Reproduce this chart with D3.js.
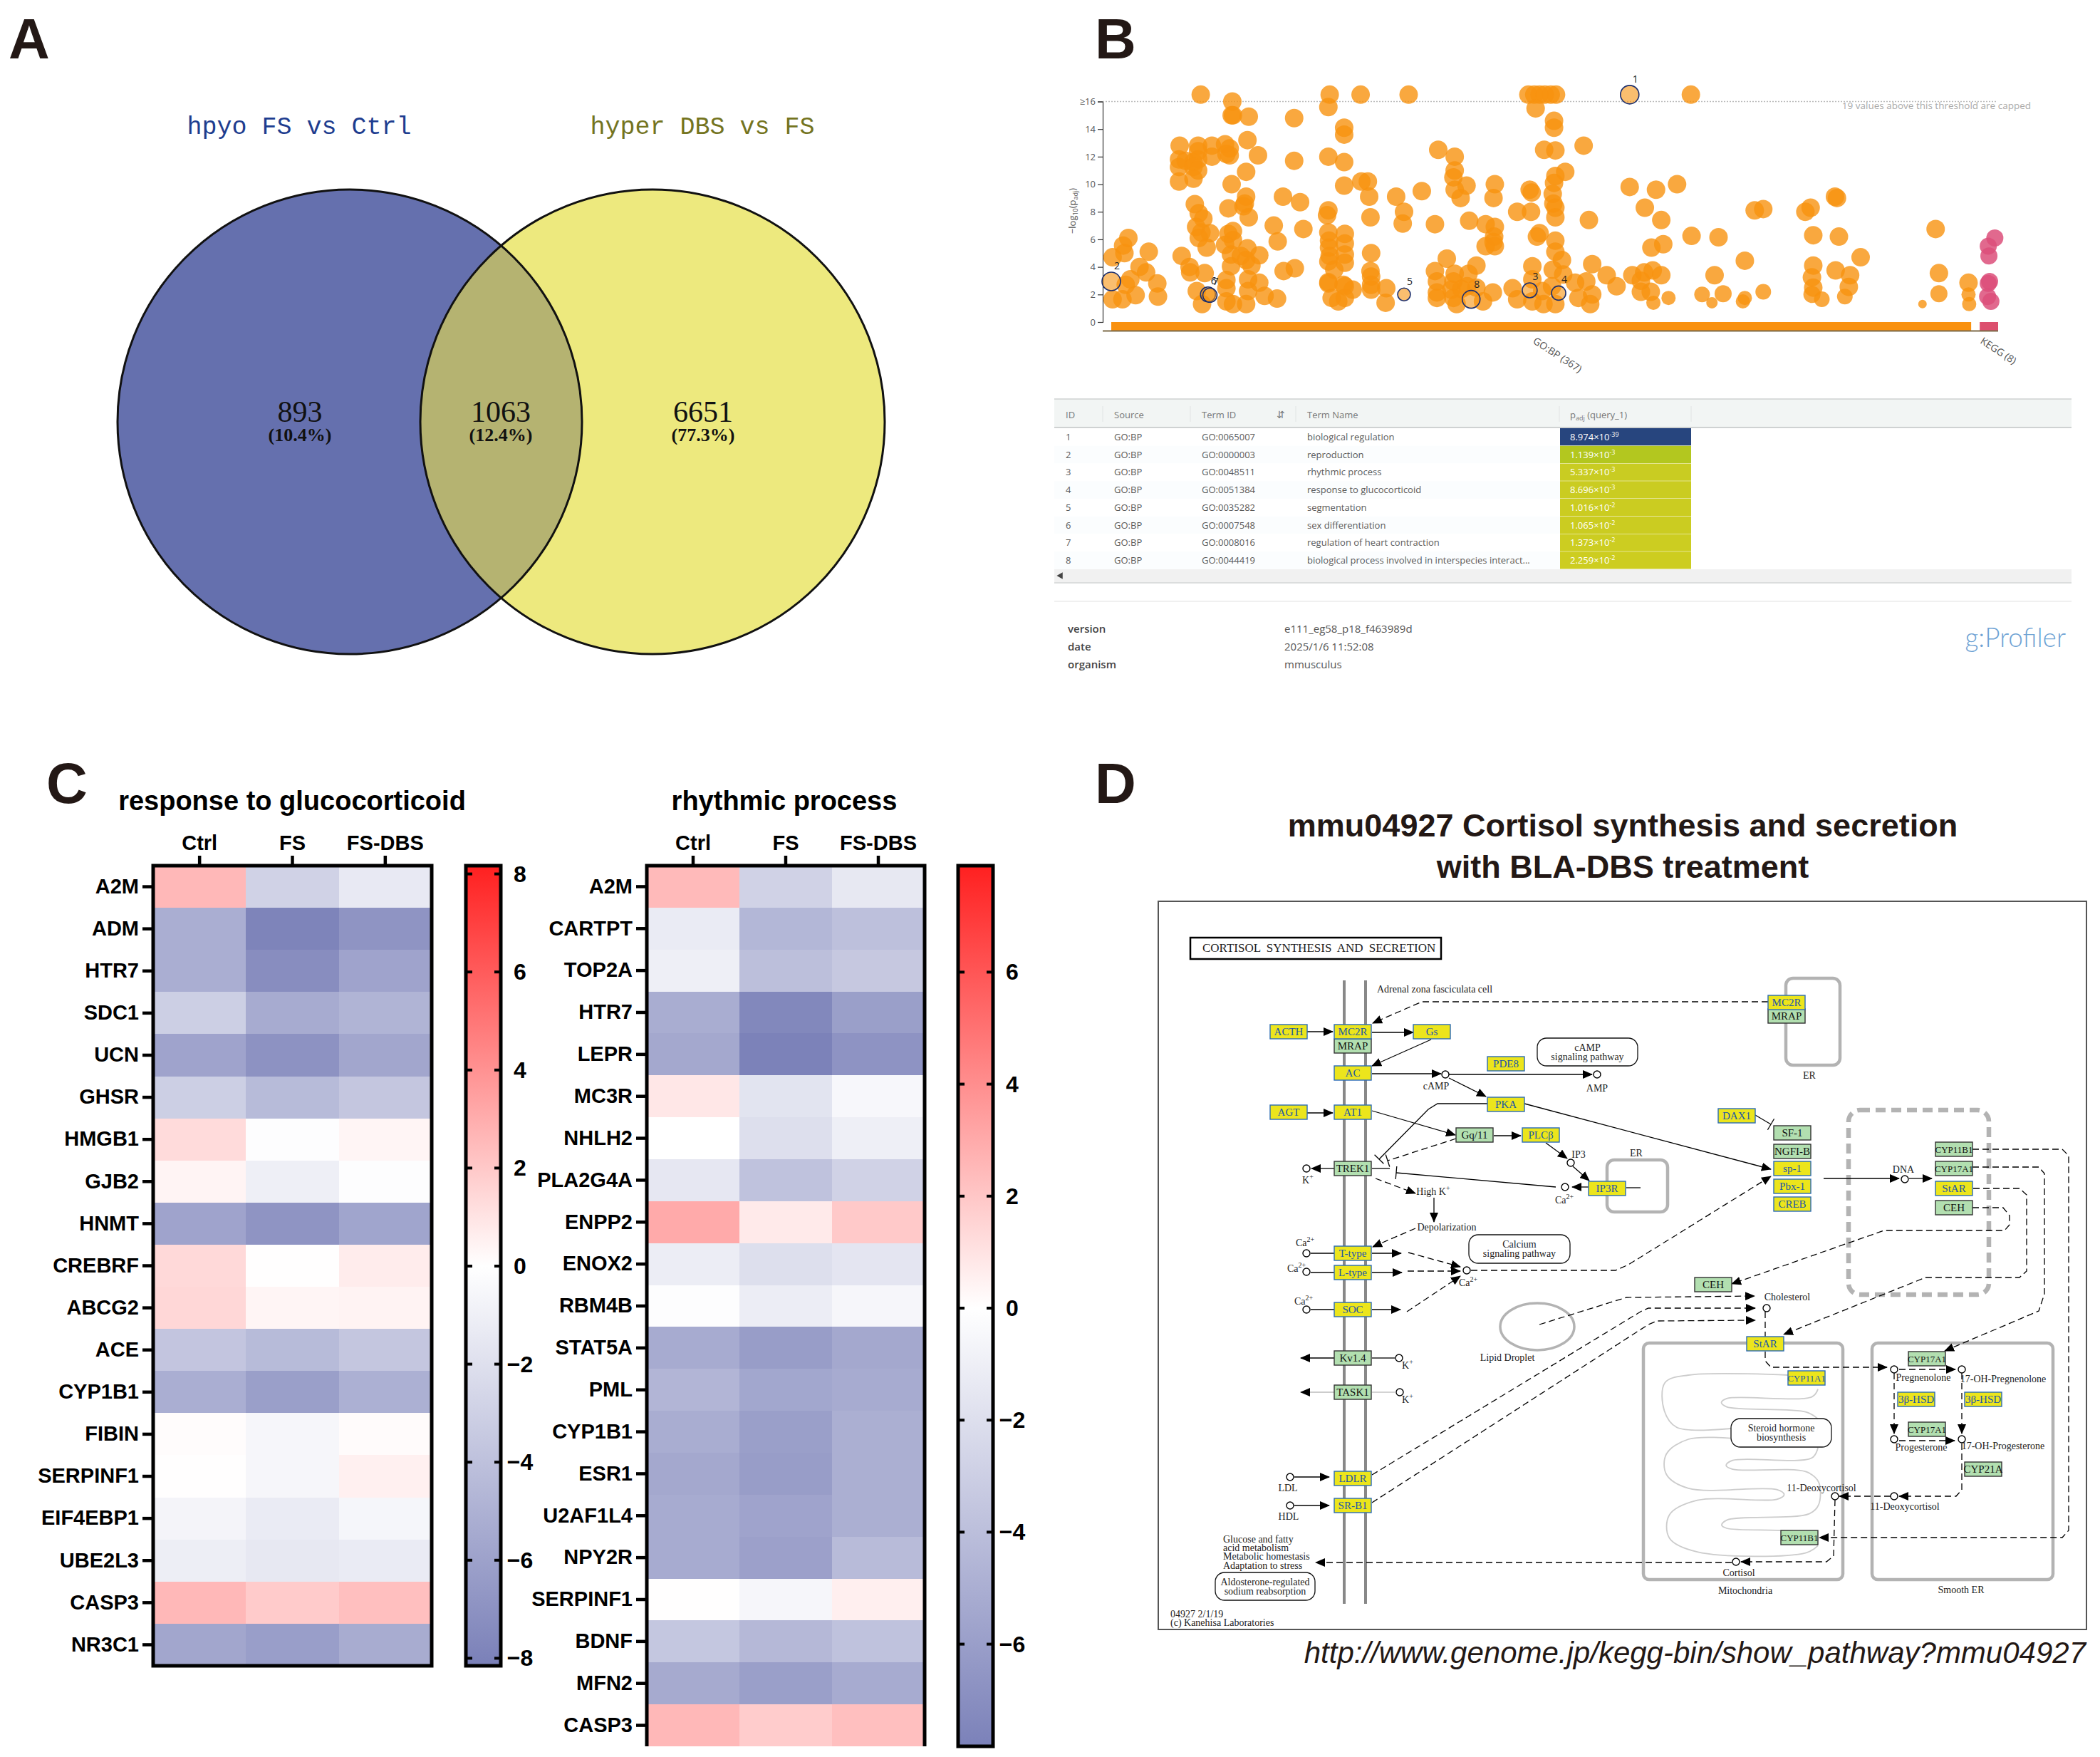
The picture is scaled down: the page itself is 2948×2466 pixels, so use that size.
<!DOCTYPE html>
<html>
<head>
<meta charset="utf-8">
<script src="https://cdn.jsdelivr.net/npm/d3@7"></script>
<style>
  html, body { margin: 0; background: #fff; }
  svg { display: block; }
</style>
</head>
<body>
<div id="chart"></div>
<script>
// ---- panel A
const vennNames = ["hpyo FS vs Ctrl", "hyper DBS vs FS"];
const vennCounts = [893, 1063, 6651];
const vennShares = ["(10.4%)", "(12.4%)", "(77.3%)"];

// ---- panel B: [term position, -log10(padj), term size (default 13)]
const goTerms = [
  [201,16.5],[397,16.5],[444,16.5],[517,16.5],[699,16.5],[708,16.5],[716,16.5],[724,16.5],[733,16.5],[741,16.5],[946,16.5],
  [249,16],[248,15],[250,15],[274,14.9],[343,14.8],[395,15.6],[710,15.5],[419,14.1],[419,13.6],[738,14.6],[738,14.1],
  [272,13.2],[783,12.8],[723,12.5],[740,12.45],[562,12.5],[169,12.8],[197,12.8],[218,12.8],[238,12.9],[245,12.6],[197,12.4],
  [245,12.1],[240,12.2],[218,12],[288,12.1],[343,11.7],[395,12],[419,11.6],[587,12],[168,11.8],[178,11.7],[190,11.6],[197,11.8],
  [168,11.25],[190,11.25],[197,11],[587,11],[755,10.9],[270,10.9],[585,10.5],[740,10.6],[738,10.1],[168,10.2],[190,10.4],
  [248,10],[445,10.2],[455,10.2],[419,9.9],[853,9.8],[893,9.6],[925,10],[648,10],[605,9.9],[587,9.6],[701,9.6],[704,9.4],
  [537,9.5],[736,9.3],[457,9.1],[498,9.1],[596,9],[646,9],[326,9.1],[270,9.1],[352,8.7],[268,8.6],[1168,9],[1165,9.1],
  [192,8.55],[737,8.6],[243,8.25],[266,8.4],[740,8.3],[876,8.3],[1056,8.2],[1043,8.1],[1128,8.3],[1120,8],[395,8.1],[393,7.75],
  [682,8],[703,8],[198,7.9],[510,8],[740,7.6],[274,7.6],[459,7.6],[205,7.5],[791,7.4],[901,7.4],[609,7.35],[634,7.1],[557,7.1],
  [508,7.15],[648,6.9],[312,7],[194,6.9],[357,6.75],[1318,6.75],[250,6.6],[395,6.5],[420,6.4],[215,6.45],[202,6.5],[716,6.45],
  [243,6.4],[947,6.25],[988,6.15],[1132,6.3],[1171,6.2],[647,6.2],[712,6.2],[91,6.1],[198,6.1],[740,5.9],[318,5.85],[396,5.9],
  [250,5.95],[420,5.7],[904,5.65],[646,5.8],[238,5.6],[83,5.55],[634,5.5],[648,5.5],[210,5.4],[396,5.4],[886,5.4],[272,5.35],
  [740,5.1],[85,5],[122,5.1],[460,5],[420,4.9],[290,4.85],[247,4.9],[172,4.8],[397,4.8],[262,4.8],[67,4.7],[1204,4.7],[575,4.6],
  [1028,4.45],[750,4.5],[270,4.5],[395,4.4],[420,4.3],[108,4],[184,4],[620,4.1],[796,4.2],[1132,4.1],[705,4.05],[344,3.9],[327,3.7],
  [278,4.1],[247,4.05],[404,3.8],[1166,3.75],[118,3.6],[557,3.7],[736,3.8],[185,3.6],[459,3.7],[207,3.55],[888,3.75],[875,3.6],
  [1323,3.55],[857,3.4],[901,3.4],[1188,3.4],[818,3.4],[982,3.4],[1130,3.25],[587,3.5],[608,3.5],[752,3.45],[94,3.1],[240,3.05],
  [395,2.9],[273,3.1],[290,2.85],[135,2.8],[460,3.3],[1368,2.85],[560,2.95],[585,2.95],[787,2.95],[770,2.85],[705,3.1],[87,2.7],
  [833,2.6],[870,3],[1186,2.55],[460,2.7],[418,2.7],[1132,2.5],[675,2.45],[720,2.25],[735,2.6],[597,2.4],[620,2.5],[560,2.15],
  [582,2.35],[606,2.6],[645,2.15],[796,2],[885,2.2],[870,2.2],[395,2.8],[432,2.35],[420,2.6],[460,2.35],[483,2.45],[273,2.25],
  [240,2.45],[195,2.25],[67,1.65],[82,1.65],[102,1.95],[136,1.85],[240,1.5],[203,1.3],[250,1.3],[270,1.3],[298,1.9],[317,1.7],
  [400,1.75],[410,1.5],[420,1.75],[482,1.4],[560,1.75],[590,1.3],[630,1.5],[585,1.75],[682,1.65],[705,1.5],[722,1.3],[740,1.3],
  [775,1.75],[793,1.3],[912,1.75,10],[889,1.4,10],[963,2,11],[978,1.4,8],[995,2.05,12],[1025,1.5,10],[1028,1.75,10],[1056,2.2,11],
  [1130,2,12],[1145,1.65,11],[1180,1.85,11],[1323,2.05,12],[1368,2,10],[1369,1.3,10],[1298,1.3,6]
];
const keggTerms = [[1408,6.1],[1398,5.5],[1399,4.8],[1398,2.8],[1400,2.95],[1397,1.85],[1402,1.5]];
// [id, position, -log10(padj), term size]
const highlighted = [
  [1,853,16.5,13],[2,65,2.95,13],[3,701,2.3,10.5],[4,745,2.1,10],[5,510,2,9],[6,212,2,10.5],[7,215,1.95,10],[8,612,1.65,12.5]
];
const sourceNames = ["GO:BP (367)", "KEGG (8)"];
const yTicks = [0, 2, 4, 6, 8, 10, 12, 14, 16];

const termIds = ["GO:0065007","GO:0000003","GO:0048511","GO:0051384","GO:0035282","GO:0007548","GO:0008016","GO:0044419"];
const termNames = ["biological regulation","reproduction","rhythmic process","response to glucocorticoid","segmentation","sex differentiation","regulation of heart contraction","biological process involved in interspecies interact..."];
const padjMantissa = ["8.974","1.139","5.337","8.696","1.016","1.065","1.373","2.259"];
const padjExponent = [-39,-3,-3,-3,-2,-2,-2,-2];
const metaKeys = ["version","date","organism"];
const metaValues = ["e111_eg58_p18_f463989d","2025/1/6 11:52:08","mmusculus"];

// ---- panel C
const groups = ["Ctrl", "FS", "FS-DBS"];
const genesGluco = ["A2M","ADM","HTR7","SDC1","UCN","GHSR","HMGB1","GJB2","HNMT","CREBRF","ABCG2","ACE","CYP1B1","FIBIN","SERPINF1","EIF4EBP1","UBE2L3","CASP3","NR3C1"];
const valuesGluco = [
  [2.6,-2.9,-1.4],[-5.2,-7.9,-6.9],[-5.2,-7.3,-5.9],[-3.1,-5.4,-4.85],[-5.9,-7,-5.7],[-3.1,-4.4,-3.65],
  [1.3,-0.1,0.35],[0.4,-1.05,-0.1],[-5.9,-6.85,-5.8],[1.4,0.05,0.7],[1.45,0.35,0.45],[-3.7,-4.4,-3.65],
  [-5.2,-6.2,-5.1],[0.1,-0.55,0.15],[0.05,-0.55,0.55],[-0.7,-1.3,-0.6],[-1.1,-1.5,-1.3],[2.6,1.9,2.35],[-5.7,-6.25,-5.35]
];
const genesRhythm = ["A2M","CARTPT","TOP2A","HTR7","LEPR","MC3R","NHLH2","PLA2G4A","ENPP2","ENOX2","RBM4B","STAT5A","PML","CYP1B1","ESR1","U2AF1L4","NPY2R","SERPINF1","BDNF","MFN2","CASP3"];
const valuesRhythm = [
  [2.45,-2.8,-1.4],[-1.25,-4.5,-3.9],[-1,-4,-3.4],[-5.1,-7.4,-6],[-5.4,-7.8,-6.7],[0.85,-1.7,-0.5],[0,-2,-1],
  [-1.5,-3.8,-2.8],[3,0.75,1.9],[-1.1,-2,-1.6],[-0.1,-1.1,-0.55],[-5.2,-6.1,-5.4],[-4.6,-5.5,-5.2],[-5.1,-6,-5],
  [-5.4,-6.1,-5],[-5.2,-5.7,-5],[-5.2,-5.9,-4.2],[0.03,-0.55,0.55],[-3.5,-4.4,-3.8],[-5.3,-6,-5.2],[2.5,1.8,2.25]
];

// ---- panel D: KEGG map objects, in map coordinates
const yellowNodes = [
  ["ACTH",1809,1448],["MC2R",1899,1448],["Gs",2010,1448],["AC",1899,1506],["PDE8",2114,1493],["PKA",2114,1550],["AGT",1809,1561],["AT1",1899,1561],
  ["PLCβ",2163,1593],["IP3R",2256,1668],["T-type",1899,1759],["L-type",1899,1786],["SOC",1899,1838],["MC2R",2508,1407],["DAX1",2438,1566],
  ["sp-1",2516,1640],["Pbx-1",2516,1665],["CREB",2516,1690],["StAR",2743,1668],["StAR",2478,1886],["CYP11A1",2536,1934],["3β-HSD",2690,1964],
  ["3β-HSD",2784,1964],["LDLR",1899,2075],["SR-B1",1899,2113]
];
const greenNodes = [
  ["MRAP",1899,1468],["Gq/11",2070,1593],["TREK1",1899,1640],["MRAP",2508,1426],["SF-1",2516,1590],["NGFI-B",2516,1616],["CYP11B1",2743,1613],
  ["CYP17A1",2743,1640],["CEH",2743,1695],["CEH",2405,1803],["CYP17A1",2705,1907],["CYP17A1",2705,2006],["CYP21A",2784,2062],["CYP11B1",2526,2158],
  ["Kv1.4",1899,1906],["TASK1",1899,1954]
];
const compounds = [
  [2029,1508],[2242,1508],[1834,1640],[2205,1632],[2197,1666],[1834,1759],[1834,1785],[1834,1838],[2059,1783],[2674,1655],[2480,1836],
  [2659,1922],[2754,1922],[2659,2020],[2754,2020],[2659,2100],[2576,2100],[2437,2192],[1964,1906],[1965,1954],[1811,2073],[1811,2113]
];
// text, x, y, superscript
const mapLabels = [
  ["Adrenal zona fasciculata cell",1933,1388,null,"start"],["cAMP",2016,1524],["AMP",2242,1527],["K",1836,1656,"+"],["IP3",2216,1620],
  ["Ca",2196,1684,"2+"],["High K",2012,1672,"+"],["Depolarization",2031,1722],["Ca",1832,1744,"2+"],["Ca",1820,1780,"2+"],["Ca",1830,1826,"2+"],
  ["Ca",2061,1800,"2+"],["DNA",2672,1641],["Cholesterol",2509,1820],["Pregnenolone",2700,1933],["17-OH-Pregnenolone",2812,1935],["Progesterone",2697,2031],
  ["17-OH-Progesterone",2812,2029],["11-Deoxycortisol",2674,2114],["11-Deoxycortisol",2557,2088],["Cortisol",2441,2207],["Mitochondria",2450,2232],
  ["Smooth ER",2753,2231],["ER",2540,1509],["ER",2297,1618],["Lipid Droplet",2116,1905],["K",1976,1916,"+"],["K",1976,1964,"+"],["LDL",1808,2088],["HDL",1809,2128],
  ["Glucose and fatty",1717,2160,null,"start"],["acid metabolism",1717,2172,null,"start"],["Metabolic homestasis",1717,2184,null,"start"],["Adaptation to stress",1717,2197,null,"start"],
  ["04927 2/1/19",1643,2265,null,"start"],["(c) Kanehisa Laboratories",1643,2277,null,"start"]
];
// label lines, x0, y0, x1, y1
const pathwayBoxes = [
  [["cAMP","signaling pathway"],2158,1457,2299,1496],
  [["Calcium","signaling pathway"],2062,1733,2204,1773],
  [["Steroid hormone","biosynthesis"],2430,1991,2571,2031],
  [["Aldosterone-regulated","sodium reabsorption"],1706,2207,1846,2246]
];
// x0, y0, x1, y1, radius
const compartments = [[2507,1373,2583,1495,10],[2256,1628,2341,1701,10],[2307,1885,2587,2217,8],[2628,1885,2882,2217,8]];
const nucleus = [2595,1558,2792,1817,16];
// points, dashed?, end type
const edges = [
  [[[1834,1448],[1871,1448]],0,"a"],[[[1926,1449],[1984,1449]],0,"a"],[[[2009,1459],[1926,1496]],0,"a"],[[[1926,1507],[2023,1507]],0,"a"],
  [[[2034,1508],[2235,1508]],0,"a"],[[[2034,1513],[2086,1539]],0,"a"],[[[1834,1562],[1871,1562]],0,"a"],[[[1926,1559],[2043,1593]],0,"a"],
  [[[2097,1594],[2135,1594]],0,"a"],[[[2170,1604],[2200,1626]],0,"a"],[[[2208,1637],[2231,1657]],0,"a"],[[[2230,1666],[2207,1666]],0,"a"],
  [[[2283,1667],[2303,1667]],0,""],[[[2088,1549],[2018,1549],[2005,1557],[1936,1627]],0,"t"],[[[2044,1598],[1948,1629]],1,"t"],
  [[[1926,1640],[1951,1640]],0,""],[[[2184,1666],[1960,1646]],0,"t"],[[[1873,1640],[1841,1640]],0,"a"],[[[1931,1654],[1987,1675]],1,"a"],
  [[[2013,1681],[2013,1715]],0,"a"],[[[1987,1724],[1927,1750]],1,"a"],[[[1840,1759],[1873,1759]],0,""],[[[1926,1759],[1967,1759]],0,"a"],
  [[[1977,1758],[2050,1778]],1,"a"],[[[1840,1786],[1873,1786]],0,""],[[[1926,1786],[1968,1786]],0,"a"],[[[1976,1784],[2050,1784]],1,"a"],
  [[[1840,1838],[1873,1838]],0,""],[[[1926,1838],[1966,1838]],0,"a"],[[[1975,1841],[2050,1791]],1,"a"],
  [[[2065,1783],[2268,1783],[2286,1775],[2486,1651]],1,"a"],[[[2140,1549],[2486,1641]],0,"a"],[[[2482,1406],[1996,1406],[1927,1436]],1,"a"],
  [[[2464,1565],[2486,1578]],0,"t"],[[[2560,1654],[2666,1654]],0,"a"],[[[2680,1654],[2712,1654]],0,"a"],
  [[[2769,1695],[2812,1695],[2821,1706],[2821,1719],[2814,1727],[2645,1727],[2431,1802]],1,"a"],
  [[[2770,1668],[2835,1668],[2845,1677],[2845,1784],[2835,1793],[2703,1793],[2504,1873]],1,"a"],
  [[[2769,1638],[2862,1638],[2870,1647],[2870,1816],[2862,1840],[2730,1896]],1,"a"],
  [[[2769,1613],[2895,1613],[2904,1622],[2904,2148],[2895,2158],[2554,2158]],1,"a"],
  [[[2161,1859],[2283,1821],[2463,1819]],1,"a"],[[[1926,2070],[2303,1841],[2314,1836],[2464,1836]],1,"a"],
  [[[1926,2109],[2314,1859],[2326,1854],[2464,1853]],1,"a"],[[[2478,1841],[2478,1876]],1,""],
  [[[2478,1897],[2478,1910],[2486,1919],[2649,1919]],1,"a"],[[[2666,1922],[2745,1922]],1,"a"],[[[2659,1927],[2659,2012]],1,"a"],
  [[[2754,1927],[2754,2012]],1,"a"],[[[2666,2022],[2744,2022]],1,"a"],[[[2754,2026],[2754,2091],[2746,2100],[2666,2100]],1,"a"],
  [[[2654,2100],[2582,2100]],1,"a"],[[[2576,2105],[2574,2184],[2564,2192],[2444,2192]],1,"a"],[[[2431,2193],[1847,2193]],1,"a"],
  [[[1826,1906],[1873,1906]].reverse(),0,"a"],[[[1926,1906],[1958,1906]],0,""],[[[1826,1954],[1873,1954]].reverse(),0,"l"],[[[1926,1954],[1958,1954]],0,"l"],
  [[[1817,2073],[1866,2073]],0,"a"],[[[1817,2113],[1866,2113]],0,"a"]
];

const width = 2948;
const height = 2466;
const ink = "#231815";
const svg = d3.select("#chart").append("svg").attr("width", width).attr("height", height).attr("viewBox", `0 0 ${width} ${height}`);
const defs = svg.append("defs");

// panel letters
svg.selectAll("text.letter")
  .data([["A",41,53],["B",1566,53],["C",94,1098],["D",1566,1098]])
  .join("text")
  .attr("x", (d) => d[1]).attr("y", (d) => d[2] + 29)
  .attr("text-anchor", "middle")
  .attr("font-family", "Liberation Sans").attr("font-weight", 700).attr("font-size", 80).attr("fill", ink)
  .text((d) => d[0]);

// ---------- A: venn
function drawVenn() {
  const g = svg.append("g");
  const cy = 592, r = 326, cxLeft = 491, cxRight = 916;
  defs.append("clipPath").attr("id", "left-set").append("circle").attr("cx", cxLeft).attr("cy", cy).attr("r", r);
  g.append("circle").attr("cx", cxLeft).attr("cy", cy).attr("r", r).attr("fill", "#6570ae");
  g.append("circle").attr("cx", cxRight).attr("cy", cy).attr("r", r).attr("fill", "#ede97e");
  g.append("circle").attr("cx", cxRight).attr("cy", cy).attr("r", r).attr("fill", "#b5b371").attr("clip-path", "url(#left-set)");
  g.selectAll("circle.rim").data([cxLeft, cxRight]).join("circle").attr("class", "rim")
    .attr("cx", (d) => d).attr("cy", cy).attr("r", r).attr("fill", "none").attr("stroke", "#111").attr("stroke-width", 3);

  g.selectAll("text.setname").data(vennNames).join("text").attr("class", "setname")
    .attr("x", (d, i) => [420, 986][i]).attr("y", 188)
    .attr("text-anchor", "middle").attr("font-family", "Liberation Mono").attr("font-size", 35)
    .attr("fill", (d, i) => ["#1e3d8f", "#74741f"][i]).text((d) => d);

  const labelX = [421, 703, 987];
  g.selectAll("text.count").data(vennCounts).join("text").attr("class", "count")
    .attr("x", (d, i) => labelX[i]).attr("y", 592)
    .attr("text-anchor", "middle").attr("font-family", "Liberation Serif").attr("font-size", 42).attr("fill", "#111").text((d) => d);
  g.selectAll("text.share").data(vennShares).join("text").attr("class", "share")
    .attr("x", (d, i) => labelX[i]).attr("y", 619)
    .attr("text-anchor", "middle").attr("font-family", "Liberation Serif").attr("font-weight", 700).attr("font-size", 26).attr("fill", "#111").text((d) => d);
}

// ---------- B: g:Profiler manhattan + table
function drawManhattan() {
  const g = svg.append("g");
  const x = d3.scaleLinear().domain([65, 1413]).range([1560, 2805]);
  const y = d3.scaleLinear().domain([0, 16]).range([452, 142.5]);
  const font = "Open Sans";

  const axis = d3.axisLeft(y).tickValues(yTicks).tickSize(7).tickPadding(3).tickFormat((d) => (d === 16 ? "≥16" : d));
  const ag = g.append("g").attr("transform", "translate(1548,0)").call(axis);
  ag.selectAll("text").attr("font-family", font).attr("font-size", 13).attr("fill", "#555");
  ag.selectAll("line,path").attr("stroke", "#333").attr("stroke-width", 1.2);

  g.append("line").attr("x1", 1548).attr("x2", 2802).attr("y1", y(16)).attr("y2", y(16))
    .attr("stroke", "#bbb").attr("stroke-width", 1.5).attr("stroke-dasharray", "2 2");
  g.append("text").attr("x", 2851).attr("y", 153).attr("text-anchor", "end")
    .attr("font-family", font).attr("font-size", 13.5).attr("fill", "#aaa").text("19 values above this threshold are capped");
  g.append("text").attr("transform", "translate(1510,296) rotate(-90)").attr("text-anchor", "middle")
    .attr("font-family", font).attr("font-size", 13).attr("fill", "#555")
    .call((t) => {
      t.append("tspan").text("−log");
      t.append("tspan").attr("font-size", 9).attr("dy", 3).text("10");
      t.append("tspan").attr("dy", -3).text("(p");
      t.append("tspan").attr("font-size", 9).attr("dy", 3).text("adj");
      t.append("tspan").attr("dy", -3).text(")");
    });

  // source bars
  g.selectAll("rect.src").data([[65, 1372, "#f9910f"], [1385, 1413, "#dc4f6e"]]).join("rect").attr("class", "src")
    .attr("x", (d) => x(d[0])).attr("width", (d) => x(d[1]) - x(d[0]))
    .attr("y", 452).attr("height", 12).attr("fill", (d) => d[2]);
  g.append("line").attr("x1", 1548).attr("x2", x(1413)).attr("y1", 464.5).attr("y2", 464.5).attr("stroke", "#7d6a48").attr("stroke-width", 2);

  g.selectAll("circle.go").data(goTerms).join("circle").attr("class", "go")
    .attr("cx", (d) => x(d[0])).attr("cy", (d) => y(d[1])).attr("r", (d) => d[2] || 13)
    .attr("fill", "#f7920f").attr("fill-opacity", 0.8);
  g.selectAll("circle.kegg").data(keggTerms).join("circle").attr("class", "kegg")
    .attr("cx", (d) => x(d[0])).attr("cy", (d) => y(d[1])).attr("r", 12)
    .attr("fill", "#dc4f7a").attr("fill-opacity", 0.85);

  const hi = g.selectAll("g.hi").data(highlighted).join("g").attr("class", "hi");
  hi.append("circle").attr("cx", (d) => x(d[1])).attr("cy", (d) => y(d[2])).attr("r", (d) => d[3])
    .attr("fill", "#f7920f").attr("fill-opacity", 0.6).attr("stroke", "#1c2f6e").attr("stroke-width", 1.6);
  hi.append("text").attr("x", (d) => x(d[1]) + 8).attr("y", (d) => y(d[2]) - d[3] - 4)
    .attr("text-anchor", "middle").attr("font-family", font).attr("font-size", 14).attr("fill", "#222").text((d) => d[0]);

  g.selectAll("text.srcname").data(sourceNames).join("text").attr("class", "srcname")
    .attr("transform", (d, i) => `translate(${[2151, 2779][i]},${[481, 481][i]}) rotate(33)`)
    .attr("font-family", font).attr("font-size", 14).attr("fill", "#555").text((d) => d);
}

function drawTable() {
  const g = svg.append("g");
  const font = "Open Sans";
  const left = 1480, right = 2908, headTop = 560, headBottom = 601, rowH = 24.75;
  const colX = [1496, 1564, 1687, 1835];
  const padjLeft = 2190, padjRight = 2374;
  const padjColour = d3.scaleLinear().domain([1.6, 2.3, 2.94, 38]).range(["#cdcd20", "#c9cc22", "#b3c71f", "#27457e"]);
  const rows = d3.scaleBand().domain(d3.range(termIds.length)).range([headBottom, headBottom + rowH * termIds.length]);
  const mid = (i) => rows(i) + rowH / 2 + 4.5;

  g.append("rect").attr("x", left).attr("y", headTop).attr("width", right - left).attr("height", headBottom - headTop).attr("fill", "#f2f5f4");
  g.selectAll("line.rule").data([[headTop, 1.5], [headBottom - 1, 2], [818, 1.5]]).join("line").attr("class", "rule")
    .attr("x1", left).attr("x2", right).attr("y1", (d) => d[0]).attr("y2", (d) => d[0]).attr("stroke", "#cfd2d2").attr("stroke-width", (d) => d[1]);
  g.append("rect").attr("x", left).attr("y", 799).attr("width", right - left).attr("height", 18).attr("fill", "#f1f1f1");
  g.append("path").attr("d", d3.symbol(d3.symbolTriangle, 40)).attr("transform", "translate(1489,808) rotate(-90)").attr("fill", "#444");
  g.append("line").attr("x1", left).attr("x2", right).attr("y1", 844).attr("y2", 844).attr("stroke", "#f0f0f0").attr("stroke-width", 2);

  g.selectAll("line.sep").data([1548, 1671, 1819, 2189, 2374]).join("line").attr("class", "sep")
    .attr("x1", (d) => d).attr("x2", (d) => d).attr("y1", 570).attr("y2", 592).attr("stroke", "#e1e4e4");
  g.selectAll("text.head").data(["ID", "Source", "Term ID", "Term Name"]).join("text").attr("class", "head")
    .attr("x", (d, i) => colX[i]).attr("y", 587).attr("font-family", font).attr("font-size", 13).attr("fill", "#777").text((d) => d);
  g.append("text").attr("x", 1798).attr("y", 587).attr("text-anchor", "middle").attr("font-family", "DejaVu Sans").attr("font-size", 14).attr("fill", "#777").text("⇵");
  g.append("text").attr("x", 2204).attr("y", 587).attr("font-family", font).attr("font-size", 13).attr("fill", "#777")
    .call((t) => {
      t.append("tspan").text("p");
      t.append("tspan").attr("font-size", 9).attr("dy", 3).text("adj");
      t.append("tspan").attr("dy", -3).text(" (query_1)");
    });

  const row = g.selectAll("g.row").data(termIds).join("g").attr("class", "row");
  row.filter((d, i) => i > 0).append("rect").attr("x", left).attr("y", (d) => rows(termIds.indexOf(d))).attr("width", padjLeft - left).attr("height", rowH)
    .attr("fill", (d) => (termIds.indexOf(d) % 2 ? "#fbfdfe" : "#fff"));
  const cell = (sel, x, fn) => sel.append("text").attr("x", x).attr("y", (d, i) => mid(i))
    .attr("font-family", font).attr("font-size", 13).attr("fill", "#5a5a5a").text(fn);
  cell(row, colX[0], (d, i) => i + 1);
  cell(row, colX[1], () => "GO:BP");
  cell(row, colX[2], (d) => d);
  cell(row, colX[3], (d, i) => termNames[i]);

  row.append("rect").attr("x", padjLeft).attr("width", padjRight - padjLeft).attr("y", (d, i) => rows(i)).attr("height", rowH - 0.5)
    .attr("fill", (d, i) => padjColour(-(Math.log10(+padjMantissa[i]) + padjExponent[i])));
  row.append("text").attr("x", 2204).attr("y", (d, i) => mid(i)).attr("font-family", font).attr("font-size", 13).attr("fill", "#fff")
    .each(function (d, i) {
      const t = d3.select(this);
      t.append("tspan").text(`${padjMantissa[i]}×10`);
      t.append("tspan").attr("font-size", 9).attr("dy", -5).text(padjExponent[i]);
    });

  g.selectAll("text.key").data(metaKeys).join("text").attr("class", "key")
    .attr("x", 1499).attr("y", (d, i) => 888 + i * 25).attr("font-family", font).attr("font-weight", 600).attr("font-size", 15).attr("fill", "#444").text((d) => d);
  g.selectAll("text.val").data(metaValues).join("text").attr("class", "val")
    .attr("x", 1803).attr("y", (d, i) => 888 + i * 25).attr("font-family", font).attr("font-size", 15).attr("fill", "#555").text((d) => d);
  g.append("text").attr("x", 2900).attr("y", 908).attr("text-anchor", "end").attr("font-family", "Lato").attr("font-weight", 300).attr("font-size", 37).attr("fill", "#6fa3d4").text("g:Profiler");
}

// ---------- C: heatmaps
function drawHeatmap({ title, genes, values, x0, x1, y0, y1, titleX, barX0, barX1, labelX, barTicks, zero, perUnit, limit, bottomLine }) {
  const g = svg.append("g").attr("font-family", "Liberation Sans").attr("font-weight", 700).attr("fill", "#000");
  const colour = d3.scaleLinear().domain([-limit, 0, limit]).range(["#7a80b8", "#ffffff", "#ff2020"]);
  const col = d3.scaleBand().domain(groups).range([x0, x1]);
  const row = d3.scaleBand().domain(genes).range([y0, y1]);

  g.append("text").attr("x", titleX).attr("y", 1137).attr("text-anchor", "middle").attr("font-size", 38).text(title);

  g.selectAll("g.hrow").data(values).join("g").attr("class", "hrow")
    .selectAll("rect").data((d, i) => d.map((v, j) => ({ v, gene: genes[i], group: groups[j] }))).join("rect")
    .attr("x", (d) => col(d.group)).attr("y", (d) => row(d.gene))
    .attr("width", col.bandwidth()).attr("height", row.bandwidth())
    .attr("shape-rendering", "crispEdges").attr("fill", (d) => colour(d.v));

  const yAxis = d3.axisLeft(row).tickSize(15).tickPadding(5);
  const xAxis = d3.axisTop(col).tickSize(14).tickPadding(8);
  for (const [axis, tr] of [[yAxis, `translate(${x0},0)`], [xAxis, `translate(0,${y0})`]]) {
    const a = g.append("g").attr("transform", tr).call(axis);
    a.select(".domain").remove();
    a.selectAll("line").attr("stroke", "#000").attr("stroke-width", 4.5);
    a.selectAll("text").attr("font-family", "Liberation Sans").attr("font-weight", 700).attr("font-size", 29).attr("fill", "#000");
  }

  const frame = `M${x0},${y1}V${y0}H${x1}V${y1}` + (bottomLine ? "Z" : "");
  g.append("path").attr("d", frame).attr("fill", "none").attr("stroke", "#000").attr("stroke-width", 5);

  // colour bar
  const gradId = `bar-${x0}`;
  const barY = d3.scaleLinear().domain([0, 1]).range([zero, zero - perUnit]);
  const grad = defs.append("linearGradient").attr("id", gradId).attr("x1", 0).attr("x2", 0).attr("y1", 0).attr("y2", 1);
  const vTop = barY.invert(y0), vBottom = barY.invert(y1);
  grad.selectAll("stop").data([vTop, 0, vBottom]).join("stop")
    .attr("offset", (d) => (barY(d) - y0) / (y1 - y0)).attr("stop-color", (d) => colour(d));
  g.append("rect").attr("x", barX0).attr("y", y0).attr("width", barX1 - barX0).attr("height", y1 - y0)
    .attr("fill", `url(#${gradId})`).attr("stroke", "#000").attr("stroke-width", 5);

  const tick = g.selectAll("g.bartick").data(barTicks).join("g").attr("class", "bartick");
  tick.selectAll("line").data((d) => [[barX0, barX0 + 9, d], [barX1 - 9, barX1, d]]).join("line")
    .attr("x1", (d) => d[0]).attr("x2", (d) => d[1]).attr("y1", (d) => barY(d[2])).attr("y2", (d) => barY(d[2]))
    .attr("stroke", "#000").attr("stroke-width", 4);
  tick.append("text").attr("x", labelX).attr("y", (d) => barY(d) + 11).attr("text-anchor", "middle").attr("font-size", 32)
    .text((d) => d3.format("d")(d));
}

// ---------- D: KEGG map
function drawPathway() {
  const g = svg.append("g");
  const serif = "Liberation Serif";

  g.append("text").attr("x", 2278).attr("y", 1174).attr("text-anchor", "middle").attr("font-family", "Liberation Sans").attr("font-weight", 700).attr("font-size", 45).attr("fill", ink).text("mmu04927 Cortisol synthesis and secretion");
  g.append("text").attr("x", 2278).attr("y", 1232).attr("text-anchor", "middle").attr("font-family", "Liberation Sans").attr("font-weight", 700).attr("font-size", 45).attr("fill", ink).text("with BLA-DBS treatment");
  g.append("text").attr("x", 2928).attr("y", 2334).attr("text-anchor", "end").attr("font-family", "Liberation Sans").attr("font-style", "italic").attr("font-size", 42).attr("fill", ink).text("http://www.genome.jp/kegg-bin/show_pathway?mmu04927");

  g.append("rect").attr("x", 1626).attr("y", 1265).attr("width", 1303).attr("height", 1022).attr("fill", "none").attr("stroke", "#555").attr("stroke-width", 2);
  g.append("rect").attr("x", 1671).attr("y", 1316).attr("width", 352).attr("height", 30).attr("fill", "#fff").attr("stroke", "#000").attr("stroke-width", 2.5);
  g.append("text").attr("x", 1688).attr("y", 1336).attr("font-family", serif).attr("font-size", 17).attr("fill", "#222").attr("word-spacing", 4).text("CORTISOL SYNTHESIS AND SECRETION");

  // cell membrane
  g.selectAll("line.mem").data([1887, 1917]).join("line").attr("class", "mem")
    .attr("x1", (d) => d).attr("x2", (d) => d).attr("y1", 1376).attr("y2", 2251).attr("stroke", "#888").attr("stroke-width", 4);

  // compartments
  g.selectAll("rect.comp").data(compartments).join("rect").attr("class", "comp")
    .attr("x", (d) => d[0]).attr("y", (d) => d[1]).attr("width", (d) => d[2] - d[0]).attr("height", (d) => d[3] - d[1]).attr("rx", (d) => d[4])
    .attr("fill", "none").attr("stroke", "#b3b3b3").attr("stroke-width", 4.5);
  g.append("rect").attr("x", nucleus[0]).attr("y", nucleus[1]).attr("width", nucleus[2] - nucleus[0]).attr("height", nucleus[3] - nucleus[1]).attr("rx", nucleus[4])
    .attr("fill", "none").attr("stroke", "#b3b3b3").attr("stroke-width", 6.5).attr("stroke-dasharray", "14 8");
  g.append("ellipse").attr("cx", 2158).attr("cy", 1862).attr("rx", 52).attr("ry", 33).attr("fill", "none").attr("stroke", "#b3b3b3").attr("stroke-width", 3.5);

  // mitochondrial cristae
  const cristae = [
    [[510,420],[170,420],[90,450],[88,560],[130,625],[314,630]],
    [[314,668],[170,672],[95,730],[95,810],[170,865],[470,870],[495,890],[470,908],[200,912],[105,970],[105,1060],[200,1115],[570,1118],[610,1090]],
    [[610,475],[590,505],[300,512],[282,528],[300,545],[570,565],[610,592]],
    [[610,705],[590,745],[320,755],[298,775],[320,790],[570,800],[612,840],[612,930],[580,965],[300,990],[283,1010],[300,1022],[570,1040],[610,1070]]
  ];
  const cx = d3.scaleLinear().domain([0, 1568]).range([2300, 2948]);
  const cy = d3.scaleLinear().domain([0, 1568]).range([1780, 2340]);
  const crista = d3.line().x((d) => cx(d[0])).y((d) => cy(d[1])).curve(d3.curveCatmullRom.alpha(0.5));
  g.selectAll("path.crista").data(cristae).join("path").attr("class", "crista").attr("d", crista)
    .attr("fill", "none").attr("stroke", "#ccc").attr("stroke-width", 1.8);

  // edges
  defs.append("marker").attr("id", "head").attr("markerUnits", "userSpaceOnUse").attr("markerWidth", 14).attr("markerHeight", 12)
    .attr("refX", 13).attr("refY", 6).attr("orient", "auto").append("path").attr("d", "M0,0L14,6L0,12Z").attr("fill", "#000");
  defs.append("marker").attr("id", "head-left").attr("markerUnits", "userSpaceOnUse").attr("markerWidth", 14).attr("markerHeight", 12)
    .attr("refX", 13).attr("refY", 6).attr("orient", "auto").append("path").attr("d", "M0,0L14,6L0,12Z").attr("fill", "#000");
  const link = d3.line();
  g.selectAll("path.edge").data(edges).join("path").attr("class", "edge")
    .attr("d", (d) => link(d[0])).attr("fill", "none")
    .attr("stroke", (d) => (d[2] === "l" ? "#bbb" : "#000")).attr("stroke-width", 1.3)
    .attr("stroke-dasharray", (d) => (d[1] ? "9 5" : null))
    .attr("marker-end", (d) => (d[2] === "a" || (d[2] === "l" && d[0][1][0] < d[0][0][0]) ? "url(#head)" : null));
  g.selectAll("line.bar").data(edges.filter((d) => d[2] === "t")).join("line").attr("class", "bar")
    .each(function (d) {
      const [a, b] = d[0].slice(-2);
      const ang = Math.atan2(b[1] - a[1], b[0] - a[0]) + Math.PI / 2;
      d3.select(this).attr("x1", b[0] - 9 * Math.cos(ang)).attr("y1", b[1] - 9 * Math.sin(ang))
        .attr("x2", b[0] + 9 * Math.cos(ang)).attr("y2", b[1] + 9 * Math.sin(ang));
    }).attr("stroke", "#000").attr("stroke-width", 1.3);

  // linked maps
  const box = g.selectAll("g.pbox").data(pathwayBoxes).join("g").attr("class", "pbox");
  box.append("rect").attr("x", (d) => d[1]).attr("y", (d) => d[2]).attr("width", (d) => d[3] - d[1]).attr("height", (d) => d[4] - d[2]).attr("rx", 13)
    .attr("fill", "#fff").attr("stroke", "#111").attr("stroke-width", 1.3);
  box.selectAll("text").data((d) => d[0].map((t, i) => ({ t, i, d }))).join("text")
    .attr("x", (e) => (e.d[1] + e.d[3]) / 2).attr("y", (e) => (e.d[2] + e.d[4]) / 2 - 2 + e.i * 13)
    .attr("text-anchor", "middle").attr("font-family", serif).attr("font-size", 14).attr("fill", "#222").text((e) => e.t);

  // compounds
  g.selectAll("circle.cpd").data(compounds).join("circle").attr("class", "cpd")
    .attr("cx", (d) => d[0]).attr("cy", (d) => d[1]).attr("r", 5).attr("fill", "#fff").attr("stroke", "#000").attr("stroke-width", 1.4);

  // gene boxes
  const node = (data, fill, stroke, ink2, cls) => {
    const n = g.selectAll(`g.${cls}`).data(data).join("g").attr("class", cls);
    n.append("rect").attr("x", (d) => d[1] - 26).attr("y", (d) => d[2] - 10).attr("width", 52).attr("height", 20)
      .attr("fill", fill).attr("stroke", stroke).attr("stroke-width", 1.4);
    n.append("text").attr("x", (d) => d[1]).attr("y", (d) => d[2] + 5).attr("text-anchor", "middle")
      .attr("font-family", serif).attr("font-size", (d) => (d[0].length > 6 ? 13 : 15)).attr("fill", ink2).text((d) => d[0]);
  };
  node(greenNodes, "#b2dfb0", "#333", "#111", "gnode");
  node(yellowNodes, "#ece51c", "#2b6cb5", "#1a55a8", "ynode");

  // labels
  g.selectAll("text.mlabel").data(mapLabels).join("text").attr("class", "mlabel")
    .attr("x", (d) => d[1]).attr("y", (d) => d[2] + 5).attr("text-anchor", (d) => d[4] || "middle")
    .attr("font-family", serif).attr("font-size", 14).attr("fill", "#222")
    .each(function (d) {
      const t = d3.select(this);
      t.append("tspan").text(d[0]);
      if (d[3]) t.append("tspan").attr("dy", -6).attr("font-size", 10).text(d[3]);
    });
}

drawVenn();
drawManhattan();
drawTable();
drawHeatmap({
  title: "response to glucocorticoid", genes: genesGluco, values: valuesGluco,
  x0: 215, x1: 606, y0: 1215, y1: 2338, titleX: 410, barX0: 654, barX1: 703, labelX: 730,
  barTicks: [8, 6, 4, 2, 0, -2, -4, -6, -8], zero: 1777, perUnit: 68.8, limit: 8.16, bottomLine: true
});
drawHeatmap({
  title: "rhythmic process", genes: genesRhythm, values: valuesRhythm,
  x0: 908, x1: 1298, y0: 1215, y1: 2451, titleX: 1101, barX0: 1345, barX1: 1394, labelX: 1421,
  barTicks: [6, 4, 2, 0, -2, -4, -6], zero: 1836, perUnit: 78.6, limit: 7.9, bottomLine: false
});
drawPathway();
</script>
</body>
</html>
